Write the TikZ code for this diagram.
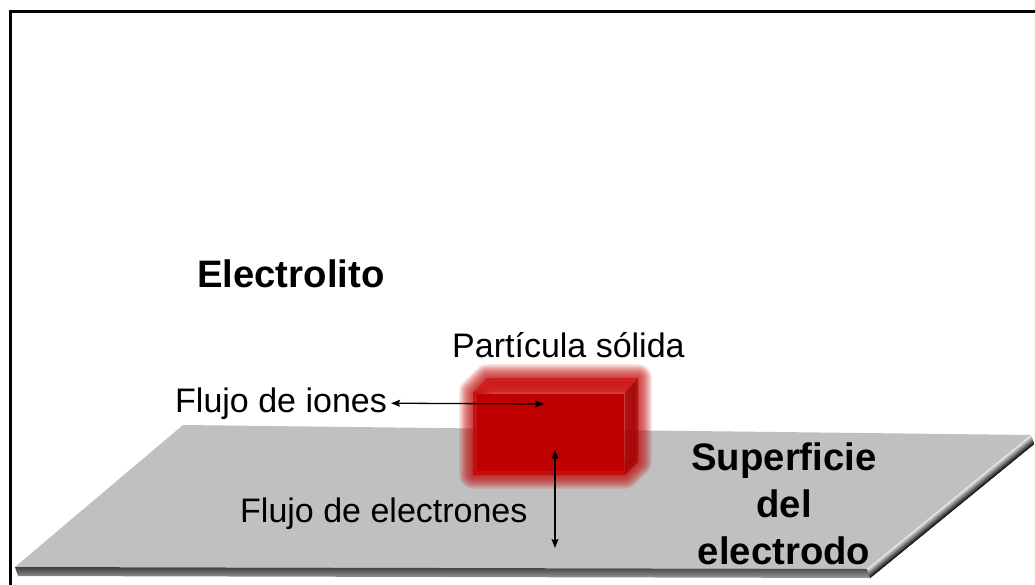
\documentclass[tikz,border=0pt]{standalone}
\usepackage{fontspec}
\setmainfont{Liberation Sans}
\usetikzlibrary{arrows.meta,calc}
\definecolor{plate}{HTML}{C0C0C0}
\definecolor{boxred}{HTML}{C00000}
\definecolor{boxtop}{HTML}{CC1414}
\definecolor{boxside}{HTML}{A60000}
\begin{document}
\begin{tikzpicture}[x=1pt,y=-1pt,
  lbl/.style={inner sep=0pt, font=\fontsize{34}{40}\selectfont},
  blbl/.style={inner sep=0pt, font=\fontsize{38.3}{47}\selectfont\bfseries},
  flow/.style={<->, line width=1.3pt, >={Stealth[length=9pt,width=7pt,inset=1.5pt]}},
]
\useasboundingbox (0,0) rectangle (1035,585);

% frame (left and top sides)
\draw[line width=3.3pt] (10.7,585) -- (10.7,11.7) -- (1035,11.7);

% electrode plate: top face
\coordinate (A) at (183,425);
\coordinate (B) at (1031,435);
\coordinate (C) at (867,569);
\coordinate (D) at (15,567);
\fill[plate] (A) -- (B) -- (C) -- (D) -- cycle;

% bevelled right side, light to dark
\foreach \i in {0,...,9}{
  \pgfmathsetmacro{\t}{\i/10}
  \pgfmathsetmacro{\q}{8+80*\i/9}
  \fill[black!\q] ($(B)+\t*(3,9)$) -- ($(C)+\t*(3,9)$) -- ($(C)+(3,9)$) -- ($(B)+(3,9)$) -- cycle;
}
% front edge of the plate
\shade[top color=black!75, bottom color=black!40]
  (D) -- (C) -- ($(C)+(3,9)$) -- ($(D)+(3,9)$) -- cycle;

% solid particle: soft-edged red block
\coordinate (p1) at (473,475);
\coordinate (p2) at (473,392);
\coordinate (p3) at (487,378);
\coordinate (p4) at (638,378);
\coordinate (p5) at (638,462);
\coordinate (p6) at (625,475);
\coordinate (p7) at (625,392);
\foreach \k in {1,...,12}{
  \pgfmathsetmacro{\lw}{2.3*\k}
  \draw[boxred, opacity=0.1, line width=\lw pt, line join=round]
    (p1) -- (p2) -- (p3) -- (p4) -- (p5) -- (p6) -- cycle;
}
\begin{scope}[opacity=0.75]
  \fill[boxred] (p1) -- (p2) -- (p7) -- (p6) -- cycle;
  \fill[boxtop] (p2) -- (p3) -- (p4) -- (p7) -- cycle;
  \fill[boxside] (p7) -- (p4) -- (p5) -- (p6) -- cycle;
\end{scope}
% solid core of the block
\fill[boxred] ($(p2)+(4,2)$) -- ($(p7)+(-1,2)$) -- ($(p6)+(-1,-4)$) -- ($(p1)+(4,-4)$) -- cycle;
\fill[boxtop, opacity=0.6] ($(p2)+(4,0)$) -- ($(p3)+(4,3)$) -- ($(p4)+(-3,3)$) -- (p7) -- cycle;
\fill[boxside, opacity=0.6] (p7) -- ($(p4)+(-3,4)$) -- ($(p5)+(-3,-2)$) -- ($(p6)+(0,-4)$) -- cycle;

% labels
\node[blbl, anchor=base west] (electrolito) at (197,287) {Electrolito};
\node[lbl, anchor=base west] (particula) at (452,357) {Partícula sólida};
\node[lbl, anchor=base west] (iones) at (175,412) {Flujo de iones};
\node[lbl, anchor=base west] (electrones) at (240,522) {Flujo de electrones};
\node[blbl, align=center, anchor=base] (superficie) at (784,564) {Superficie\\del\\electrodo};

% flows
\coordinate (ionEnd) at (544,404);
\coordinate (eTop) at (555,450);
\coordinate (eBot) at (555,548);
\draw[flow] ([xshift=4pt]iones.east) -- (ionEnd);
\draw[flow] (eTop) -- (eBot);
\end{tikzpicture}
\end{document}
